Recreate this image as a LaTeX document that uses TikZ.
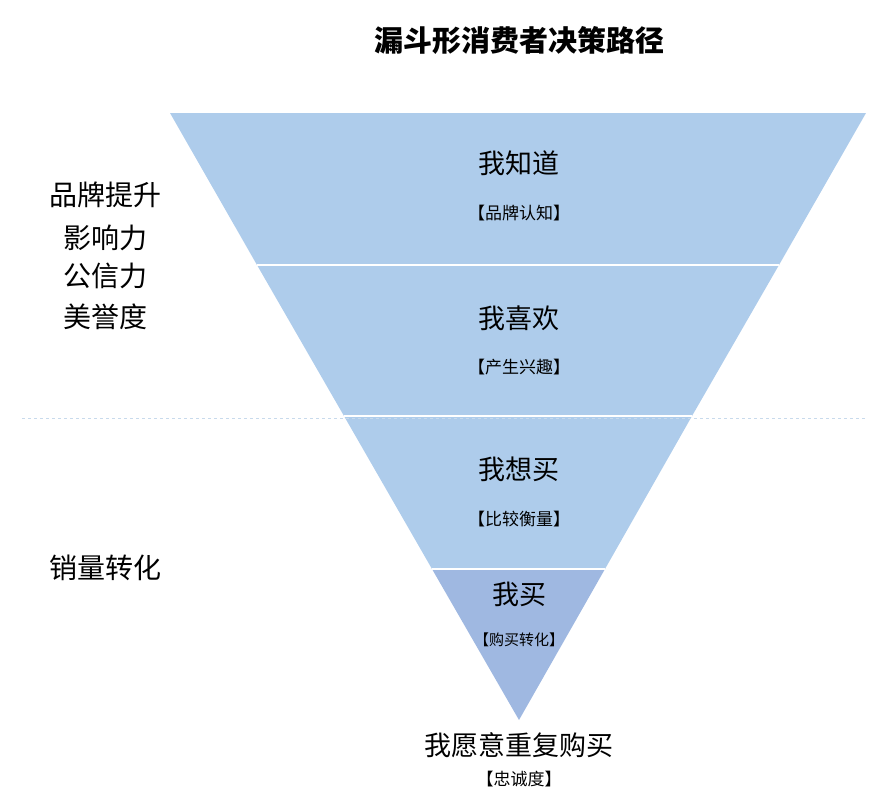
\documentclass[tikz,border=0pt]{standalone}
\usepackage{fontspec}
\setmainfont{Noto Sans CJK SC}
\begin{document}
\begin{tikzpicture}[x=1pt,y=-1pt,
  band/.style={fill=bandc,draw=white,line width=1.5pt},
  big/.style={font=\fontsize{27}{30}\selectfont},
  small/.style={font=\fontsize{17}{20}\selectfont},
  side/.style={font=\fontsize{28}{31}\selectfont}]
\definecolor{bandc}{HTML}{AECCEB}
\definecolor{bandd}{HTML}{9FB8E1}
\definecolor{dashc}{HTML}{C8DAEC}
\useasboundingbox (0,0) rectangle (870,809);
\coordinate (A) at (170,113);
\coordinate (B) at (866,113);
\coordinate (O) at (519,720);
\fill[bandc] (A) -- (B) -- (779,265) -- (257,265) -- cycle;
\fill[bandc] (257,265) -- (779,265) -- (692,416) -- (344,416) -- cycle;
\fill[bandc] (344,416) -- (692,416) -- (605,569) -- (432,569) -- cycle;
\fill[bandd] (432,569) -- (605,569) -- (O) -- cycle;
\draw[white,line width=1.5pt] (257,265) -- (779,265) (344,416) -- (692,416) (432,569) -- (605,569);
\draw[dashc,dashed,line width=0.8pt] (22,418) -- (866,418);
\node[font=\bfseries\fontsize{29}{32}\selectfont] (t) at (519,40) {漏斗形消费者决策路径};
\node[big] (l1) at (519,163) {我知道};
\node[small] (s1) at (519,213) {【品牌认知】};
\node[big] (l2) at (519,318) {我喜欢};
\node[small] (s2) at (519,367) {【产生兴趣】};
\node[big] (l3) at (519,469) {我想买};
\node[small] (s3) at (519,519) {【比较衡量】};
\node[big] (l4) at (519,594) {我买};
\node[font=\fontsize{15}{18}\selectfont] (s4) at (519,640) {【购买转化】};
\node[big] (l5) at (519,745) {我愿意重复购买};
\node[small] (s5) at (519,779) {【忠诚度】};
\node[side] (a1) at (105,195) {品牌提升};
\node[side] (a2) at (105,238) {影响力};
\node[side] (a3) at (105,276) {公信力};
\node[side] (a4) at (105,317) {美誉度};
\node[side] (a5) at (105,568) {销量转化};
\end{tikzpicture}
\end{document}
